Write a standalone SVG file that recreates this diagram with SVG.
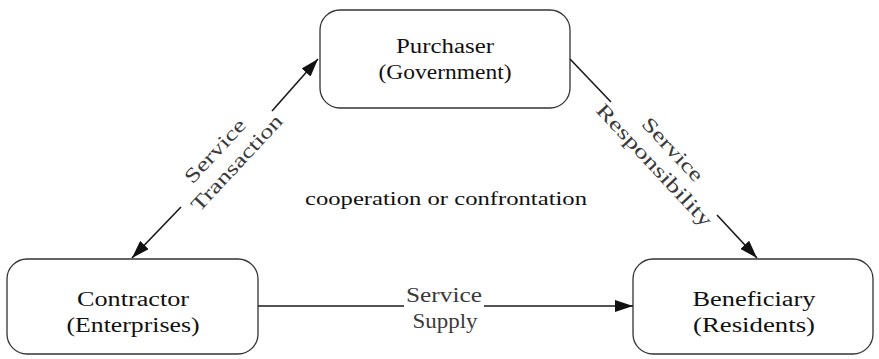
<svg xmlns="http://www.w3.org/2000/svg" width="879" height="359" viewBox="0 0 879 359">
<style>
.node rect{fill:#fff;stroke:#333;stroke-width:1.3}
.nt{font-family:"Liberation Serif",serif;font-size:20px;fill:#111;text-anchor:middle}
.lt{font-family:"Liberation Serif",serif;font-size:20px;fill:#3a3a3a;text-anchor:middle}
.conn line{stroke:#1a1a1a;stroke-width:1.6}
</style>
<defs>
<marker id="ah" markerUnits="userSpaceOnUse" markerWidth="18" markerHeight="12" refX="18" refY="6" orient="auto">
<path d="M0,0 L18,6 L0,12 z" fill="#111"/>
</marker>
</defs>
<rect width="879" height="359" fill="#fff"/>
<g id="purchaser" class="node">
<rect x="320" y="10" width="250" height="98" rx="20"/>
<text class="nt" x="445" y="53" textLength="98" lengthAdjust="spacingAndGlyphs">Purchaser</text>
<text class="nt" x="445" y="79" textLength="133" lengthAdjust="spacingAndGlyphs">(Government)</text>
</g>
<g id="contractor" class="node">
<rect x="7" y="259" width="251" height="95" rx="20"/>
<text class="nt" x="133" y="306" textLength="112" lengthAdjust="spacingAndGlyphs">Contractor</text>
<text class="nt" x="133" y="332" textLength="133" lengthAdjust="spacingAndGlyphs">(Enterprises)</text>
</g>
<g id="beneficiary" class="node">
<rect x="633" y="259" width="240" height="95" rx="20"/>
<text class="nt" x="754" y="306" textLength="123" lengthAdjust="spacingAndGlyphs">Beneficiary</text>
<text class="nt" x="754" y="332" textLength="122" lengthAdjust="spacingAndGlyphs">(Residents)</text>
</g>
<g id="connectors" class="conn">
<line x1="272" y1="111" x2="318" y2="59" marker-end="url(#ah)"/>
<line x1="181" y1="207" x2="132" y2="258" marker-end="url(#ah)"/>
<line x1="570" y1="59" x2="611" y2="102"/>
<line x1="717" y1="215" x2="757" y2="258" marker-end="url(#ah)"/>
<line x1="258" y1="306" x2="404" y2="306"/>
<line x1="484" y1="306" x2="633" y2="306" marker-end="url(#ah)"/>
</g>
<g id="labels">
<g transform="translate(227,158) rotate(-47)">
<text class="lt" x="-3" y="-7" textLength="80" lengthAdjust="spacingAndGlyphs">Service</text>
<text class="lt" x="3" y="17" textLength="124" lengthAdjust="spacingAndGlyphs">Transaction</text>
</g>
<g transform="translate(662,158) rotate(47)">
<text class="lt" x="1" y="-7" textLength="80" lengthAdjust="spacingAndGlyphs">Service</text>
<text class="lt" x="0" y="17" textLength="160" lengthAdjust="spacingAndGlyphs">Responsibility</text>
</g>
<text class="lt" x="444" y="302" textLength="76" lengthAdjust="spacingAndGlyphs">Service</text>
<text class="lt" x="445" y="328" textLength="65" lengthAdjust="spacingAndGlyphs">Supply</text>
<text class="nt" x="446" y="205" style="font-size:18px" textLength="282" lengthAdjust="spacingAndGlyphs">cooperation or confrontation</text>
</g>
</svg>
